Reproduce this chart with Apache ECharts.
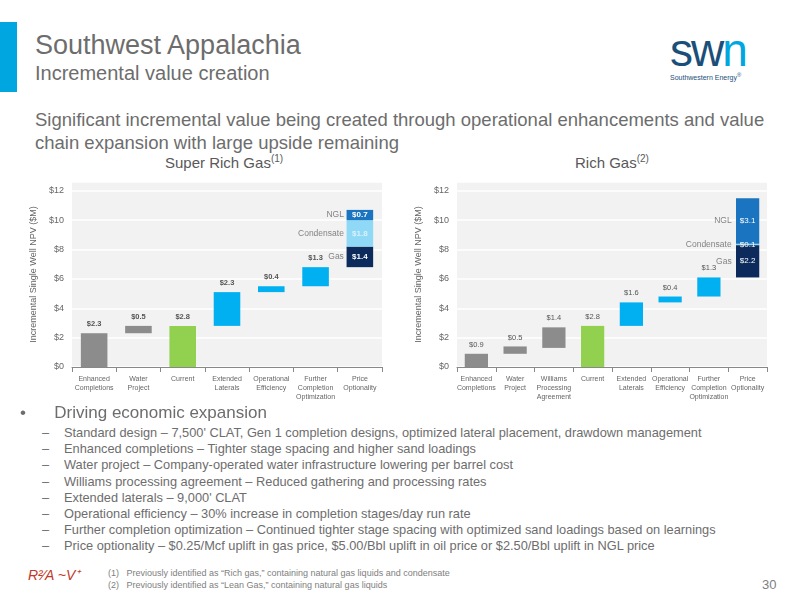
<!DOCTYPE html>
<html>
<head>
<meta charset="UTF-8">
<title>Southwest Appalachia</title>
<style>
  *{margin:0;padding:0;}
  body{width:800px;height:600px;position:relative;background:#fff;font-family:'Liberation Sans Narrow','Liberation Sans',sans-serif;color:#595959;overflow:hidden;}
  .abs{position:absolute;}
  .bar{left:0;top:22px;width:17px;height:70px;background:#00a6e0;}
  .t1{left:35px;top:30px;font-size:27px;color:#6d6d6d;}
  .t2{left:35px;top:62px;font-size:20px;color:#6d6d6d;}
  .logo{left:670px;top:30px;font-family:'Liberation Sans',sans-serif;}
  .sub{left:35px;top:108px;font-size:18.5px;line-height:23px;color:#6d6d6d;width:740px;}
  .chart{width:380px;height:260px;}
  .ctitle{font-size:15px;color:#595959;}
  .bul{left:20px;top:403px;font-size:17px;color:#6d6d6d;}
  ul.d{left:64px;top:425px;font-size:12.8px;line-height:16.2px;color:#6d6d6d;list-style:none;}
  ul.d li:before{content:"–";position:absolute;left:-22px;}
  .fn{left:108px;top:567px;font-size:9px;line-height:12px;color:#808080;}
  .pg{left:762px;top:577px;font-size:13px;color:#808080;}
</style>
<script src="https://cdn.jsdelivr.net/npm/echarts@6/dist/echarts.min.js"></script>
</head>
<body>
<div class="abs bar"></div>
<div class="abs t1">Southwest Appalachia</div>
<div class="abs t2">Incremental value creation</div>
<div class="abs logo">
  <div style="font-size:46px;color:#1b4f7a;letter-spacing:-2px;line-height:40px;">sw<span style="color:#00a6e0">n</span></div>
  <div style="font-size:7px;color:#1b4f7a;margin-top:2px;">Southwestern Energy<sup>®</sup></div>
</div>
<div class="abs sub">Significant incremental value being created through operational enhancements and value chain expansion with large upside remaining</div>

<div class="abs ctitle" style="left:165px;top:153px;">Super Rich Gas<sup style="font-size:10px">(1)</sup></div>
<div class="abs ctitle" style="left:575px;top:153px;">Rich Gas<sup style="font-size:10px">(2)</sup></div>
<div id="c1" class="abs chart" style="left:10px;top:165px;"></div>
<div id="c2" class="abs chart" style="left:395px;top:165px;"></div>

<div class="abs bul">•&nbsp;&nbsp;&nbsp;&nbsp;&nbsp;&nbsp;Driving economic expansion</div>
<ul class="abs d">
  <li>Standard design – 7,500' CLAT, Gen 1 completion designs, optimized lateral placement, drawdown management</li>
  <li>Enhanced completions – Tighter stage spacing and higher sand loadings</li>
  <li>Water project – Company-operated water infrastructure lowering per barrel cost</li>
  <li>Williams processing agreement – Reduced gathering and processing rates</li>
  <li>Extended laterals – 9,000' CLAT</li>
  <li>Operational efficiency – 30% increase in completion stages/day run rate</li>
  <li>Further completion optimization – Continued tighter stage spacing with optimized sand loadings based on learnings</li>
  <li>Price optionality – $0.25/Mcf uplift in gas price, $5.00/Bbl uplift in oil price or $2.50/Bbl uplift in NGL price</li>
</ul>
<div class="abs" style="left:28px;top:565px;font-size:14px;color:#c0392b;font-style:italic;">R²⁄A ~V⁺</div>
<div class="abs fn">(1)&nbsp;&nbsp;&nbsp;Previously identified as “Rich gas,” containing natural gas liquids and condensate<br>(2)&nbsp;&nbsp;&nbsp;Previously identified as “Lean Gas,” containing natural gas liquids</div>
<div class="abs pg">30</div>

<script>
// Super Rich Gas
const cats1 = ['Enhanced\nCompletions','Water\nProject','Current','Extended\nLaterals','Operational\nEfficiency','Further\nCompletion\nOptimization','Price\nOptionality'];
const base1 = [0, 2.3, 0, 2.8, 5.1, 5.5, 6.8];
const vals1 = [2.3, 0.5, 2.8, 2.3, 0.4, 1.3, '-'];
const kind1 = ['g','g','c','b','b','b','p'];
const price1 = {gas: 1.4, cond: 1.8, ngl: 0.7};

// Rich Gas
const cats2 = ['Enhanced\nCompletions','Water\nProject','Williams\nProcessing\nAgreement','Current','Extended\nLaterals','Operational\nEfficiency','Further\nCompletion\nOptimization','Price\nOptionality'];
const base2 = [0, 0.9, 1.3, 0, 2.8, 4.4, 4.8, 6.1];
const vals2 = [0.9, 0.5, 1.4, 2.8, 1.6, 0.4, 1.3, '-'];
const kind2 = ['g','g','g','c','b','b','b','p'];
const price2 = {gas: 2.2, cond: 0.1, ngl: 3.1};

const yTicks = [0, 2, 4, 6, 8, 10, 12];
const colors = {g:'#8c8c8c', c:'#92d050', b:'#00b0f0', gas:'#0c2a5b', cond:'#8fd8f6', ngl:'#1a74bf'};

function build(el, cats, base, vals, kind, price, boldLabels){
  const n = cats.length, last = n - 1;
  const only = v => cats.map((c,i) => i === last ? v : '-');
  const p0 = base[last];
  const seg = (name, v, col, txt) => ({
    name, type:'bar', stack:'w', data: only(v), barWidth:'60%',
    itemStyle:{color: col},
    label:{show:true, position:'inside', color:txt, fontSize:8, fontWeight: boldLabels?'bold':'normal', formatter:'$'+v.toFixed(1)}
  });
  const tag = (name, y) => ({
    type:'scatter', symbolSize:0, silent:true, z:5,
    data: cats.map((c,i) => i === last ? y : '-'),
    label:{show:true, position:'left', distance:16, formatter:name, color:'#666', fontSize:8.5}
  });
  const chart = echarts.init(document.getElementById(el));
  chart.setOption({
    animation:false,
    textStyle:{fontFamily:"'Liberation Sans Narrow','Liberation Sans',sans-serif"},
    grid:{left:62, right:8, top:17, bottom:58, show:true, backgroundColor:'#f2f2f2', borderWidth:0},
    xAxis:{type:'category', data:cats,
      axisLine:{lineStyle:{color:'#888'}}, axisTick:{show:true, lineStyle:{color:'#888'}},
      axisLabel:{interval:0, fontSize:7, color:'#666', lineHeight:9}},
    yAxis:{type:'value', min:0, max:12.6, interval:2,
      name:'Incremental Single Well NPV ($M)', nameLocation:'middle', nameGap:34,
      nameTextStyle:{fontSize:9, color:'#666'},
      axisLabel:{fontSize:9, color:'#666', formatter: v => yTicks.includes(v) ? '$'+v : ''},
      splitLine:{lineStyle:{color:'#fff', width:1.5}}},
    series:[
      {type:'bar', stack:'w', data: base, itemStyle:{color:'transparent'}, barWidth:'60%', silent:true},
      {type:'bar', stack:'w', barWidth:'60%',
        data: vals.map((v,i) => v === '-' ? '-' : {value:v, itemStyle:{color:colors[kind[i]]}}),
        label:{show:true, position:'top', fontSize:7.5, color:'#555', fontWeight: boldLabels?'bold':'normal', formatter: p => '$'+p.value.toFixed(1)}},
      seg('Gas', price.gas, colors.gas, '#fff'),
      seg('Condensate', price.cond, colors.cond, boldLabels ? '#d8f3ff' : '#fff'),
      seg('NGL', price.ngl, colors.ngl, '#fff'),
      tag('Gas', p0 + price.gas/2),
      tag('Condensate', p0 + price.gas + price.cond/2),
      tag('NGL', p0 + price.gas + price.cond + price.ngl/2)
    ]
  });
}
build('c1', cats1, base1, vals1, kind1, price1, true);
build('c2', cats2, base2, vals2, kind2, price2, false);
</script>
</body>
</html>
